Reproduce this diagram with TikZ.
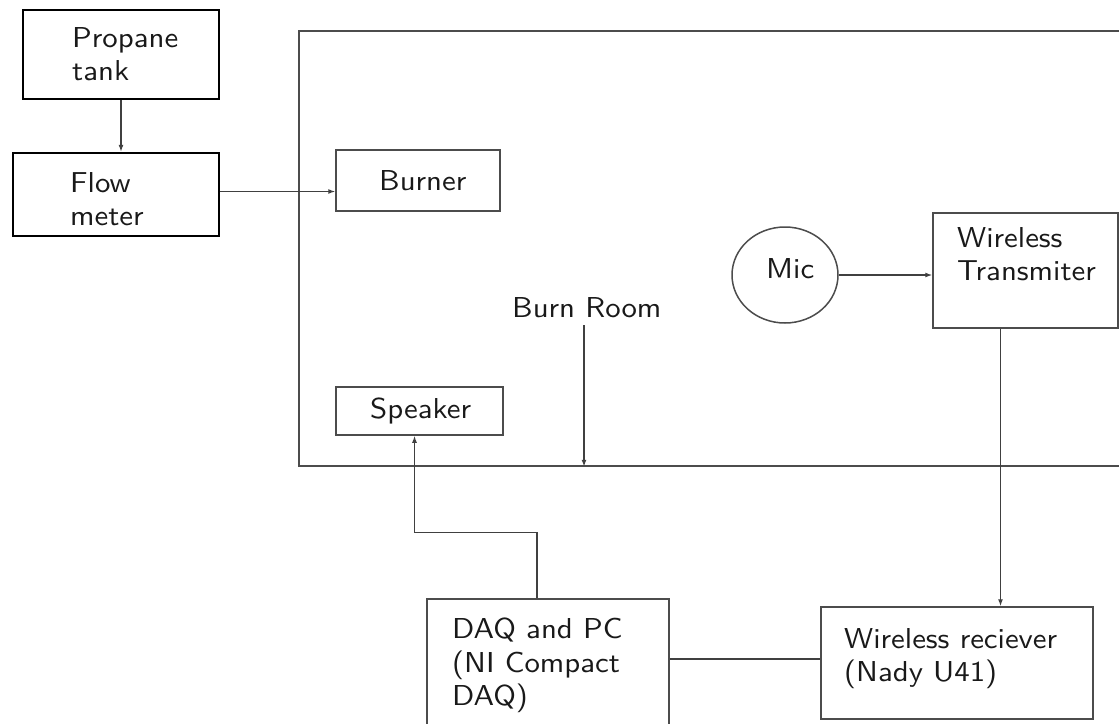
\documentclass[tikz,border=0pt]{standalone}
\usepackage{fontspec}
\usetikzlibrary{shapes.geometric,arrows.meta}
\setsansfont{lmsans10-regular.otf}[FakeStretch=1.07]
\renewcommand{\familydefault}{\sfdefault}
\begin{document}
\begin{tikzpicture}[x=1pt,y=-1pt,
  txt/.style={font=\sffamily\fontsize{28.8}{33.5}\selectfont, text=black!90, inner sep=0pt, align=left, anchor=north west},
  thinbox/.style={draw=black!70, line width=1.5pt, rectangle, inner sep=0pt},
  thickbox/.style={draw=black, line width=2.3pt, rectangle, inner sep=0pt},
  conn/.style={draw=black!75, line width=1.3pt},
  arr/.style={conn, -{Latex[length=7pt,width=5pt]}}
]
\useasboundingbox (0,0) rectangle (1119,723);
\clip (0,0) rectangle (1119,723);
\fill[white] (0,0) rectangle (1119,723);

% boxes
\node[thickbox, minimum width=196, minimum height=89] (tank) at (121,54.5) {};
\node[thickbox, minimum width=206, minimum height=83] (flow) at (116,194.5) {};
\node[thinbox, minimum width=841, minimum height=435] (room) at (719.5,248.5) {};
\node[thinbox, minimum width=164, minimum height=61] (burner) at (418,180.5) {};
\node[draw=black!70, line width=1.5pt, ellipse, inner sep=0pt, minimum width=106, minimum height=96] (mic) at (785,275) {};
\node[thinbox, minimum width=185, minimum height=115] (tx) at (1025.5,270.5) {};
\node[thinbox, minimum width=167, minimum height=48] (speaker) at (419.5,411) {};
\node[thinbox, minimum width=242, minimum height=146] (daq) at (548,672) {};
\node[thinbox, minimum width=272, minimum height=112] (rx) at (957,663) {};

% texts
\node[txt] (tTank) at (72,27) {Propane\\tank};
\node[txt] (tFlow) at (70,172) {Flow\\meter};
\node[txt] (tBurner) at (379,170) {Burner};
\node[txt] (tMic) at (766,258) {Mic};
\node[txt] (tTx) at (957,227) {Wireless\\Transmiter};
\node[txt] (label) at (512,297) {Burn Room};
\node[txt] (tSpeaker) at (370,398) {Speaker};
\node[txt] (tDaq) at (452,618) {DAQ and PC\\(NI Compact\\DAQ)};
\node[txt] (tRx) at (844,628) {Wireless reciever\\(Nady U41)};

% connectors
\draw[arr] (tank.south) -- (tank.south |- flow.north);
\draw[arr] ([yshift=3pt]flow.east) -- ([yshift=3pt]flow.east -| burner.west);
\draw[arr] (mic.east) -- (mic.east -| tx.west);
\coordinate (txout) at ([xshift=-25pt]tx.south);
\draw[arr] (txout) -- (txout |- rx.north);
\coordinate (lbltop) at (584,325);
\draw[arr] (lbltop) -- (lbltop |- room.south);
\coordinate (daqout) at ([xshift=-11pt]daq.north);
\coordinate (spkin) at ([xshift=-5pt]speaker.south);
\draw[arr] (daqout) -- ++(0,-66) -| (spkin);
\draw[conn] ([yshift=4pt]rx.west -| daq.east) -- ([yshift=4pt]rx.west);
\end{tikzpicture}
\end{document}
